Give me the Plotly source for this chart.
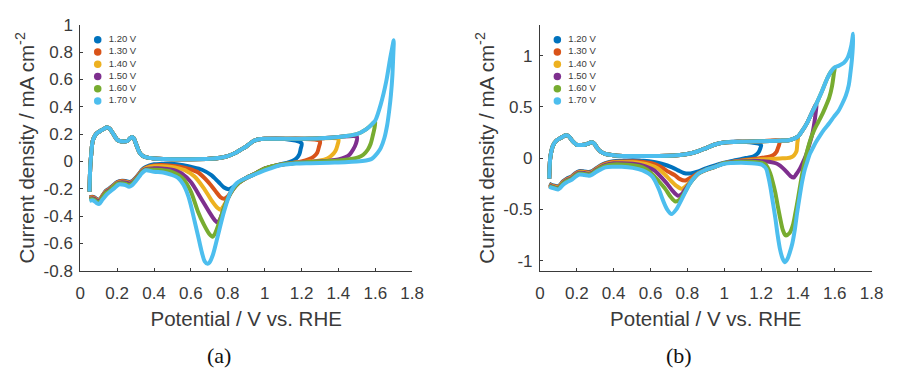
import plotly.graph_objects as go

# ---------------------------------------------------------------
# Cyclic voltammograms recorded with increasing upper vertex
# potential.  Potential in V vs. RHE, current density in mA cm^-2
# ---------------------------------------------------------------
SERIES = ["1.20 V", "1.30 V", "1.40 V", "1.50 V", "1.60 V", "1.70 V"]
VERTEX = [1.20, 1.30, 1.40, 1.50, 1.60, 1.70]
COLORS = ["#0072BD", "#D95319", "#EDB120", "#7E2F8E", "#77AC30", "#4DBEEE"]

# ---------------- panel (a) ----------------
A_ANODIC_E = [0.050, 0.052, 0.055, 0.060, 0.067, 0.080, 0.093, 0.110, 0.130, 0.147,
              0.160, 0.180, 0.200, 0.215, 0.235, 0.255, 0.270, 0.280, 0.290, 0.305,
              0.320, 0.335, 0.360, 0.400, 0.450, 0.500, 0.600, 0.700, 0.760, 0.800,
              0.840, 0.870, 0.900, 0.940, 0.970, 1.000, 1.100, 1.200, 1.300, 1.400,
              1.500, 1.550, 1.580, 1.600, 1.630, 1.660, 1.680, 1.690, 1.700]
A_ANODIC_J = [-0.220, -0.120, -0.020, 0.060, 0.146, 0.190, 0.210, 0.225, 0.240, 0.250,
              0.240, 0.200, 0.160, 0.150, 0.146, 0.150, 0.170, 0.180, 0.170, 0.120,
              0.070, 0.045, 0.030, 0.022, 0.018, 0.017, 0.017, 0.020, 0.028, 0.040,
              0.062, 0.086, 0.110, 0.150, 0.163, 0.167, 0.167, 0.167, 0.170, 0.180,
              0.200, 0.235, 0.270, 0.300, 0.420, 0.590, 0.750, 0.820, 0.887]

A_CATH_E_120 = [1.200, 1.195, 1.188, 1.170, 1.152, 1.120, 1.080, 1.000, 0.950, 0.900,
                0.860, 0.830, 0.806, 0.780, 0.750, 0.709, 0.660, 0.603, 0.550, 0.496,
                0.440, 0.400, 0.355, 0.335, 0.320, 0.300, 0.280, 0.265, 0.245, 0.227,
                0.200, 0.174, 0.155, 0.138, 0.120, 0.103, 0.090, 0.077, 0.065, 0.050]
A_CATH_J_120 = [0.134, 0.090, 0.052, 0.020, 0.006, -0.010, -0.022, -0.052, -0.088, -0.120,
                -0.150, -0.185, -0.203, -0.190, -0.150, -0.098, -0.060, -0.040, -0.025, -0.017,
                -0.017, -0.020, -0.040, -0.060, -0.087, -0.120, -0.145, -0.150, -0.142, -0.140,
                -0.150, -0.180, -0.200, -0.215, -0.250, -0.280, -0.275, -0.262, -0.258, -0.262]

A_CATH_E_130 = [1.300, 1.295, 1.285, 1.265, 1.241, 1.200, 1.150, 1.080, 1.000, 0.950,
                0.900, 0.860, 0.830, 0.800, 0.780, 0.760, 0.730, 0.691, 0.640, 0.585,
                0.540, 0.496, 0.440, 0.400, 0.355, 0.335, 0.320, 0.300, 0.280, 0.265,
                0.245, 0.227, 0.200, 0.174, 0.155, 0.138, 0.120, 0.103, 0.090, 0.077,
                0.065, 0.050]
A_CATH_J_130 = [0.150, 0.110, 0.064, 0.035, 0.018, 0.000, -0.012, -0.025, -0.052, -0.088,
                -0.120, -0.155, -0.200, -0.255, -0.272, -0.260, -0.210, -0.145, -0.080, -0.052,
                -0.038, -0.030, -0.025, -0.028, -0.045, -0.065, -0.090, -0.123, -0.148, -0.153,
                -0.146, -0.143, -0.153, -0.183, -0.203, -0.218, -0.252, -0.283, -0.278, -0.265,
                -0.260, -0.264]

A_CATH_E_140 = [1.400, 1.395, 1.383, 1.360, 1.339, 1.300, 1.250, 1.150, 1.080, 1.000,
                0.950, 0.900, 0.860, 0.830, 0.800, 0.775, 0.762, 0.745, 0.710, 0.674,
                0.620, 0.567, 0.530, 0.496, 0.440, 0.400, 0.355, 0.335, 0.320, 0.300,
                0.280, 0.265, 0.245, 0.227, 0.200, 0.174, 0.155, 0.138, 0.120, 0.103,
                0.090, 0.077, 0.065, 0.050]
A_CATH_J_140 = [0.164, 0.120, 0.076, 0.040, 0.022, 0.008, 0.000, -0.010, -0.025, -0.052,
                -0.088, -0.120, -0.155, -0.200, -0.270, -0.330, -0.353, -0.340, -0.280, -0.203,
                -0.110, -0.063, -0.048, -0.040, -0.035, -0.035, -0.050, -0.068, -0.093, -0.126,
                -0.151, -0.157, -0.150, -0.147, -0.157, -0.187, -0.207, -0.222, -0.256, -0.287,
                -0.282, -0.269, -0.264, -0.268]

A_CATH_E_150 = [1.500, 1.495, 1.480, 1.460, 1.436, 1.400, 1.350, 1.250, 1.150, 1.080,
                1.000, 0.950, 0.900, 0.860, 0.830, 0.800, 0.775, 0.755, 0.745, 0.730,
                0.700, 0.656, 0.600, 0.550, 0.520, 0.496, 0.440, 0.400, 0.355, 0.335,
                0.320, 0.300, 0.280, 0.265, 0.245, 0.227, 0.200, 0.174, 0.155, 0.138,
                0.120, 0.103, 0.090, 0.077, 0.065, 0.050]
A_CATH_J_150 = [0.180, 0.130, 0.088, 0.050, 0.030, 0.015, 0.006, -0.003, -0.012, -0.025,
                -0.052, -0.088, -0.120, -0.155, -0.200, -0.270, -0.360, -0.430, -0.446, -0.430,
                -0.370, -0.272, -0.150, -0.087, -0.068, -0.059, -0.050, -0.050, -0.055, -0.072,
                -0.097, -0.130, -0.155, -0.161, -0.154, -0.151, -0.161, -0.191, -0.211, -0.226,
                -0.260, -0.291, -0.286, -0.273, -0.268, -0.272]

A_CATH_E_160 = [1.600, 1.595, 1.587, 1.575, 1.560, 1.535, 1.507, 1.450, 1.400, 1.300,
                1.200, 1.100, 1.000, 0.950, 0.900, 0.860, 0.830, 0.800, 0.775, 0.750,
                0.730, 0.718, 0.700, 0.670, 0.638, 0.600, 0.560, 0.532, 0.496, 0.440,
                0.400, 0.355, 0.335, 0.320, 0.300, 0.280, 0.265, 0.245, 0.227, 0.200,
                0.174, 0.155, 0.138, 0.120, 0.103, 0.090, 0.077, 0.065, 0.050]
A_CATH_J_160 = [0.296, 0.240, 0.192, 0.130, 0.088, 0.050, 0.030, 0.015, 0.008, 0.000,
                -0.008, -0.020, -0.052, -0.088, -0.120, -0.155, -0.200, -0.270, -0.360, -0.460,
                -0.530, -0.550, -0.530, -0.460, -0.365, -0.220, -0.130, -0.098, -0.075, -0.062,
                -0.060, -0.060, -0.078, -0.102, -0.136, -0.164, -0.172, -0.162, -0.158, -0.163,
                -0.193, -0.218, -0.230, -0.266, -0.298, -0.294, -0.280, -0.275, -0.278]

A_CATH_E_170 = [1.700, 1.697, 1.693, 1.685, 1.676, 1.665, 1.649, 1.630, 1.613, 1.590,
                1.578, 1.550, 1.500, 1.436, 1.350, 1.250, 1.170, 1.080, 1.028, 0.980,
                0.940, 0.900, 0.851, 0.815, 0.780, 0.745, 0.720, 0.700, 0.691, 0.675,
                0.656, 0.640, 0.620, 0.600, 0.585, 0.560, 0.532, 0.496, 0.450, 0.400,
                0.355, 0.335, 0.320, 0.300, 0.280, 0.265, 0.245, 0.227, 0.209, 0.180,
                0.147, 0.120, 0.103, 0.090, 0.077, 0.065, 0.050]
A_CATH_J_170 = [0.887, 0.760, 0.633, 0.490, 0.378, 0.270, 0.170, 0.100, 0.064, 0.030,
                0.018, 0.008, 0.000, -0.005, -0.008, -0.012, -0.015, -0.029, -0.052, -0.075,
                -0.098, -0.120, -0.156, -0.226, -0.365, -0.550, -0.680, -0.740, -0.748, -0.730,
                -0.645, -0.550, -0.435, -0.320, -0.249, -0.170, -0.121, -0.098, -0.080, -0.075,
                -0.064, -0.085, -0.110, -0.145, -0.175, -0.185, -0.172, -0.168, -0.168, -0.200,
                -0.237, -0.280, -0.310, -0.305, -0.290, -0.284, -0.288]

# ---------------- panel (b) ----------------
B_ANODIC_E = [0.050, 0.052, 0.055, 0.060, 0.070, 0.089, 0.110, 0.125, 0.140, 0.155,
              0.175, 0.200, 0.225, 0.248, 0.265, 0.280, 0.295, 0.310, 0.328, 0.350,
              0.380, 0.420, 0.500, 0.600, 0.700, 0.760, 0.800, 0.850, 0.900, 0.950,
              1.000, 1.100, 1.200, 1.300, 1.350, 1.375, 1.400, 1.425, 1.450, 1.470,
              1.500, 1.530, 1.560, 1.580, 1.600, 1.620, 1.650, 1.670, 1.680, 1.690,
              1.700]
B_ANODIC_J = [-0.200, -0.100, -0.010, 0.050, 0.120, 0.170, 0.195, 0.210, 0.222, 0.215,
              0.170, 0.130, 0.128, 0.133, 0.145, 0.155, 0.140, 0.100, 0.065, 0.045,
              0.032, 0.024, 0.020, 0.020, 0.022, 0.030, 0.040, 0.062, 0.096, 0.133,
              0.152, 0.160, 0.164, 0.170, 0.175, 0.188, 0.210, 0.270, 0.344, 0.420,
              0.530, 0.650, 0.780, 0.845, 0.885, 0.900, 0.930, 0.980, 1.030, 1.100,
              1.213]

B_CATH_E_120 = [1.200, 1.195, 1.187, 1.175, 1.160, 1.130, 1.106, 1.050, 1.000, 0.950,
                0.900, 0.860, 0.830, 0.806, 0.780, 0.750, 0.717, 0.660, 0.610, 0.550,
                0.504, 0.444, 0.400, 0.355, 0.330, 0.300, 0.280, 0.266, 0.240, 0.213,
                0.190, 0.169, 0.145, 0.124, 0.110, 0.098, 0.080, 0.062, 0.050]
B_CATH_J_120 = [0.127, 0.090, 0.058, 0.035, 0.018, 0.005, -0.003, -0.025, -0.045, -0.070,
                -0.100, -0.130, -0.145, -0.151, -0.145, -0.120, -0.090, -0.055, -0.034, -0.025,
                -0.020, -0.025, -0.030, -0.050, -0.070, -0.105, -0.130, -0.136, -0.130, -0.127,
                -0.150, -0.182, -0.200, -0.228, -0.260, -0.275, -0.270, -0.260, -0.250]

B_CATH_E_130 = [1.300, 1.298, 1.290, 1.285, 1.270, 1.250, 1.220, 1.180, 1.100, 1.000,
                0.950, 0.900, 0.860, 0.830, 0.800, 0.785, 0.760, 0.730, 0.700, 0.650,
                0.610, 0.550, 0.504, 0.444, 0.400, 0.355, 0.330, 0.300, 0.280, 0.266,
                0.240, 0.213, 0.190, 0.169, 0.145, 0.124, 0.110, 0.098, 0.080, 0.062,
                0.050]
B_CATH_J_130 = [0.170, 0.130, 0.090, 0.065, 0.035, 0.018, 0.006, -0.003, -0.020, -0.050,
                -0.085, -0.115, -0.145, -0.180, -0.210, -0.219, -0.205, -0.165, -0.136, -0.080,
                -0.052, -0.035, -0.030, -0.032, -0.036, -0.055, -0.075, -0.110, -0.135, -0.141,
                -0.135, -0.132, -0.155, -0.187, -0.205, -0.233, -0.265, -0.280, -0.275, -0.265,
                -0.255]

B_CATH_E_140 = [1.400, 1.397, 1.392, 1.380, 1.365, 1.340, 1.303, 1.250, 1.214, 1.150,
                1.100, 1.000, 0.950, 0.900, 0.860, 0.830, 0.800, 0.780, 0.767, 0.740,
                0.710, 0.682, 0.640, 0.593, 0.550, 0.504, 0.444, 0.400, 0.355, 0.330,
                0.300, 0.280, 0.266, 0.240, 0.213, 0.190, 0.169, 0.145, 0.124, 0.110,
                0.098, 0.080, 0.062, 0.050]
B_CATH_J_140 = [0.204, 0.150, 0.065, 0.030, 0.010, 0.000, -0.003, -0.008, -0.012, -0.018,
                -0.025, -0.050, -0.085, -0.115, -0.150, -0.200, -0.260, -0.290, -0.300, -0.270,
                -0.220, -0.167, -0.100, -0.066, -0.050, -0.040, -0.040, -0.042, -0.060, -0.080,
                -0.115, -0.140, -0.146, -0.140, -0.137, -0.160, -0.192, -0.210, -0.238, -0.270,
                -0.285, -0.280, -0.270, -0.260]

B_CATH_E_150 = [1.500, 1.495, 1.480, 1.460, 1.445, 1.425, 1.410, 1.390, 1.377, 1.360,
                1.340, 1.320, 1.303, 1.280, 1.250, 1.200, 1.160, 1.100, 1.000, 0.950,
                0.900, 0.860, 0.815, 0.790, 0.770, 0.749, 0.720, 0.690, 0.664, 0.620,
                0.576, 0.540, 0.504, 0.444, 0.400, 0.355, 0.330, 0.300, 0.280, 0.266,
                0.240, 0.213, 0.190, 0.169, 0.145, 0.124, 0.110, 0.098, 0.080, 0.062,
                0.050]
B_CATH_J_150 = [0.528, 0.420, 0.250, 0.120, 0.034, -0.050, -0.105, -0.160, -0.190, -0.175,
                -0.136, -0.100, -0.074, -0.050, -0.037, -0.030, -0.025, -0.030, -0.050, -0.085,
                -0.115, -0.150, -0.240, -0.300, -0.350, -0.367, -0.320, -0.250, -0.197, -0.120,
                -0.083, -0.065, -0.055, -0.050, -0.050, -0.066, -0.086, -0.121, -0.146, -0.152,
                -0.146, -0.143, -0.166, -0.198, -0.216, -0.244, -0.276, -0.291, -0.286, -0.276,
                -0.266]

B_CATH_E_160 = [1.600, 1.596, 1.585, 1.570, 1.550, 1.534, 1.510, 1.490, 1.470, 1.454,
                1.440, 1.427, 1.413, 1.400, 1.387, 1.374, 1.355, 1.333, 1.318, 1.303,
                1.290, 1.277, 1.263, 1.250, 1.235, 1.223, 1.200, 1.150, 1.100, 1.000,
                0.950, 0.900, 0.860, 0.815, 0.780, 0.755, 0.735, 0.710, 0.680, 0.646,
                0.600, 0.557, 0.504, 0.444, 0.400, 0.355, 0.330, 0.300, 0.280, 0.266,
                0.240, 0.213, 0.190, 0.169, 0.145, 0.124, 0.110, 0.098, 0.080, 0.062,
                0.050]
B_CATH_J_160 = [0.885, 0.835, 0.700, 0.590, 0.500, 0.435, 0.350, 0.280, 0.190, 0.095,
                -0.010, -0.120, -0.260, -0.400, -0.530, -0.645, -0.730, -0.753, -0.700, -0.580,
                -0.460, -0.335, -0.230, -0.150, -0.090, -0.060, -0.045, -0.035, -0.035, -0.050,
                -0.085, -0.115, -0.150, -0.244, -0.350, -0.410, -0.423, -0.380, -0.300, -0.228,
                -0.140, -0.090, -0.070, -0.062, -0.062, -0.075, -0.095, -0.128, -0.153, -0.160,
                -0.154, -0.150, -0.174, -0.205, -0.224, -0.250, -0.282, -0.297, -0.290, -0.280,
                -0.272]

B_CATH_E_170 = [1.700, 1.698, 1.693, 1.685, 1.676, 1.660, 1.640, 1.620, 1.596, 1.570,
                1.543, 1.520, 1.498, 1.480, 1.463, 1.450, 1.436, 1.423, 1.410, 1.396,
                1.383, 1.370, 1.356, 1.343, 1.330, 1.317, 1.303, 1.290, 1.277, 1.263,
                1.250, 1.238, 1.228, 1.210, 1.197, 1.150, 1.090, 1.000, 0.950, 0.900,
                0.860, 0.815, 0.770, 0.740, 0.714, 0.690, 0.665, 0.646, 0.610, 0.557,
                0.504, 0.444, 0.400, 0.355, 0.330, 0.300, 0.280, 0.266, 0.240, 0.213,
                0.190, 0.169, 0.145, 0.124, 0.110, 0.098, 0.080, 0.062, 0.050]
B_CATH_J_170 = [1.213, 1.080, 0.960, 0.830, 0.713, 0.610, 0.528, 0.460, 0.405, 0.340,
                0.280, 0.220, 0.157, 0.095, 0.034, -0.040, -0.120, -0.230, -0.370, -0.530,
                -0.700, -0.830, -0.920, -0.985, -1.015, -0.980, -0.890, -0.750, -0.580, -0.420,
                -0.275, -0.170, -0.105, -0.070, -0.060, -0.050, -0.045, -0.055, -0.085, -0.115,
                -0.150, -0.244, -0.400, -0.500, -0.546, -0.500, -0.400, -0.306, -0.180, -0.120,
                -0.095, -0.085, -0.085, -0.090, -0.110, -0.140, -0.165, -0.172, -0.165, -0.160,
                -0.185, -0.215, -0.235, -0.262, -0.292, -0.307, -0.298, -0.287, -0.280]

# tick labels (hyphen minus, as printed on the axes)
X_TICKS = [0, 0.2, 0.4, 0.6, 0.8, 1.0, 1.2, 1.4, 1.6, 1.8]
X_TICKTEXT = ["0", "0.2", "0.4", "0.6", "0.8", "1", "1.2", "1.4", "1.6", "1.8"]
A_Y_TICKS = [-0.8, -0.6, -0.4, -0.2, 0, 0.2, 0.4, 0.6, 0.8, 1.0]
A_Y_TICKTEXT = ["-0.8", "-0.6", "-0.4", "-0.2", "0", "0.2", "0.4", "0.6", "0.8", "1"]
B_Y_TICKS = [-1.0, -0.5, 0, 0.5, 1.0]
B_Y_TICKTEXT = ["-1", "-0.5", "0", "0.5", "1"]

A_CATH_E = [A_CATH_E_120, A_CATH_E_130, A_CATH_E_140, A_CATH_E_150, A_CATH_E_160, A_CATH_E_170]
A_CATH_J = [A_CATH_J_120, A_CATH_J_130, A_CATH_J_140, A_CATH_J_150, A_CATH_J_160, A_CATH_J_170]
B_CATH_E = [B_CATH_E_120, B_CATH_E_130, B_CATH_E_140, B_CATH_E_150, B_CATH_E_160, B_CATH_E_170]
B_CATH_J = [B_CATH_J_120, B_CATH_J_130, B_CATH_J_140, B_CATH_J_150, B_CATH_J_160, B_CATH_J_170]

W, H = 899, 379
AXIS_COLOR = "#3a3a3a"
TEXT_COLOR = "#3a3a3a"
SANS = "Liberation Sans, Arial, sans-serif"


def loop(an_e, an_j, ca_e, ca_j, vertex):
    """Anodic sweep up to the vertex followed by the cathodic return sweep."""
    xs = [e for e in an_e if e < vertex - 1e-9]
    ys = [j for e, j in zip(an_e, an_j) if e < vertex - 1e-9]
    return xs + list(ca_e), ys + list(ca_j)


fig = go.Figure()

panels = [
    ("x", "y", A_ANODIC_E, A_ANODIC_J, A_CATH_E, A_CATH_J),
    ("x2", "y2", B_ANODIC_E, B_ANODIC_J, B_CATH_E, B_CATH_J),
]
for xa, ya, an_e, an_j, ca_e, ca_j in panels:
    for k, name in enumerate(SERIES):
        xs, ys = loop(an_e, an_j, ca_e[k], ca_j[k], VERTEX[k])
        fig.add_trace(go.Scatter(
            x=xs, y=ys, xaxis=xa, yaxis=ya, mode="lines", name=name,
            line=dict(color=COLORS[k], width=4, shape="spline", smoothing=0.8),
            showlegend=False, hoverinfo="skip",
        ))

# compact legend keys (one row per series) on auxiliary axes
for xa, ya in (("x3", "y3"), ("x4", "y4")):
    fig.add_trace(go.Scatter(
        x=[0] * len(SERIES), y=list(range(len(SERIES))), xaxis=xa, yaxis=ya,
        mode="markers", marker=dict(color=COLORS, size=7.5), cliponaxis=False,
        showlegend=False, hoverinfo="skip",
    ))
    # labels: a wider transparent marker pushes the text clear of the key dot
    fig.add_trace(go.Scatter(
        x=[0] * len(SERIES), y=list(range(len(SERIES))), xaxis=xa, yaxis=ya,
        mode="markers+text", text=SERIES, textposition="middle right",
        textfont=dict(family=SANS, size=9.5, color=TEXT_COLOR),
        marker=dict(color="rgba(0,0,0,0)", size=16), cliponaxis=False,
        showlegend=False, hoverinfo="skip",
    ))


def px_x(p):
    return p / W


def px_y(p):
    return 1 - p / H


Y_DOM = [px_y(275.7), px_y(16.7)]
common_axis = dict(
    showline=True, linecolor=AXIS_COLOR, linewidth=1, ticks="inside", ticklen=3,
    tickcolor=AXIS_COLOR, showgrid=False, zeroline=False,
    tickfont=dict(family=SANS, size=17, color=TEXT_COLOR),
)
xtitle = dict(text="Potential / V vs. RHE", font=dict(family=SANS, size=20.5, color=TEXT_COLOR),
              standoff=9)
ytitle = dict(text="Current density / mA cm<sup>-2</sup>",
              font=dict(family=SANS, size=20.5, color=TEXT_COLOR), standoff=3)

LEG_DOM = [px_y(32.3 + 5.5 * 12.9), px_y(32.3 - 0.5 * 12.9)]
LABEL_FONT = dict(family="Liberation Serif, serif", size=22, color="#111")

fig.update_layout(
    width=W, height=H, margin=dict(l=0, r=0, t=0, b=0),
    paper_bgcolor="white", plot_bgcolor="white", showlegend=False,
    xaxis=dict(domain=[px_x(76.7), px_x(415)], range=[0, 1.8], tickvals=X_TICKS,
               ticktext=X_TICKTEXT, title=xtitle, anchor="y", ticklabelstandoff=7,
               **common_axis),
    yaxis=dict(domain=Y_DOM, range=[-0.8, 1.0], tickvals=A_Y_TICKS, ticktext=A_Y_TICKTEXT,
               title=ytitle, anchor="x", ticklabelstandoff=3, **common_axis),
    xaxis2=dict(domain=[px_x(545.3), px_x(883.3)], range=[0, 1.8], tickvals=X_TICKS,
                ticktext=X_TICKTEXT, title=xtitle, anchor="y2", ticklabelstandoff=7,
                **common_axis),
    yaxis2=dict(domain=Y_DOM, range=[-1.1, 1.3], tickvals=B_Y_TICKS, ticktext=B_Y_TICKTEXT,
                title=ytitle, anchor="x2", ticklabelstandoff=3, **common_axis),
    xaxis3=dict(domain=[px_x(94.5), px_x(194.5)], range=[0, 1], visible=False, anchor="y3"),
    yaxis3=dict(domain=LEG_DOM, range=[5.5, -0.5], visible=False, anchor="x3"),
    xaxis4=dict(domain=[px_x(563), px_x(663)], range=[0, 1], visible=False, anchor="y4"),
    yaxis4=dict(domain=LEG_DOM, range=[5.5, -0.5], visible=False, anchor="x4"),
    annotations=[
        dict(text="(a)", x=px_x(218), y=px_y(365), xref="paper", yref="paper",
             xanchor="center", yanchor="middle", showarrow=False, font=LABEL_FONT),
        dict(text="(b)", x=px_x(687), y=px_y(365), xref="paper", yref="paper",
             xanchor="center", yanchor="middle", showarrow=False, font=LABEL_FONT),
    ],
)

fig.write_html("out.html")
